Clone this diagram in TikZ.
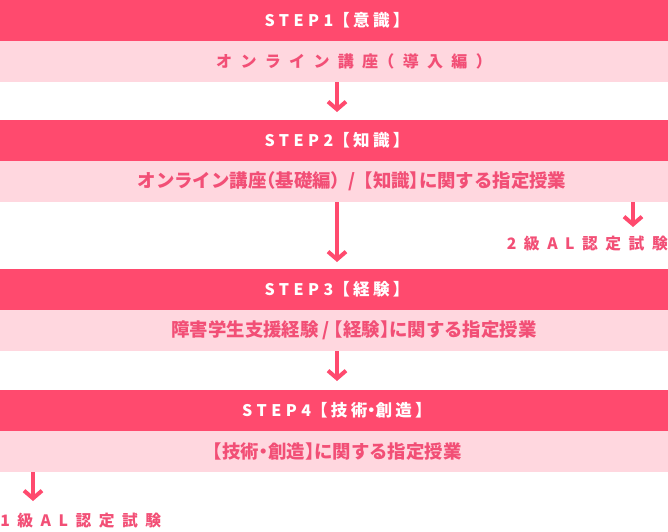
\documentclass[tikz,border=0pt]{standalone}
\usepackage{fontspec}
\setmainfont{Noto Sans CJK JP}
\usetikzlibrary{arrows.meta}
\definecolor{bandDark}{HTML}{FF4A6E}
\definecolor{bandLight}{HTML}{FFD7DF}
\definecolor{txtPink}{HTML}{F24F76}
\newcommand{\halfw}[1]{{\addfontfeature{CharacterWidth=AlternateHalf}#1}}
\newcommand{\stephead}[2]{\hspace*{4.5pt}{\addfontfeature{LetterSpace=28}#1}{\fontsize{12.4}{14}\selectfont\addfontfeature{LetterSpace=20}【#2】}}
\begin{document}
\begin{tikzpicture}[x=0.75pt,y=-0.75pt,
  headband/.style={fill=bandDark, minimum width=501pt, minimum height=30.75pt, inner sep=0pt,
    text=white, font=\bfseries\fontsize{12}{14}\selectfont},
  subband/.style={fill=bandLight, minimum width=501pt, minimum height=30.75pt, inner sep=0pt,
    text=txtPink, font=\bfseries\fontsize{13.8}{15}\selectfont\addfontfeature{CharacterWidth=AlternateHalf}},
  examlabel/.style={inner sep=0pt, text=txtPink, font=\bfseries\fontsize{11.8}{13}\selectfont},
  flowarrow/.style={draw=bandDark, line width=3pt,
    -{Straight Barb[sharp, length=5.8pt, width=13.5pt, line width=3pt]}}
]
\useasboundingbox (0,0) rectangle (668,532);

\node[headband] (h1) at (334,20.5) {\stephead{STEP1}{意識}};
\node[subband] (s1) at (334,61.5) {\hspace*{24pt}\fontsize{12}{14}\selectfont\addfontfeature{LetterSpace=52}オンライン講座（導入編）};

\node[headband] (h2) at (334,140.5) {\stephead{STEP2}{知識}};
\node[subband] (s2) at (334,181.5) {\hspace*{27pt}オンライン講座（基礎編）\hspace{0.45em}/\hspace{0.45em}【知識】に関する指定授業};

\node[headband] (h3) at (334,289.5) {\stephead{STEP3}{経験}};
\node[subband] (s3) at (334,330.5) {\hspace*{30pt}障害学生支援経験 / 【経験】に関する指定授業};

\node[headband] (h4) at (334,410.5) {\stephead{STEP4}{技術\halfw{・}創造}};
\node[subband] (s4) at (334,451.5) {\hspace*{5pt}【技術・創造】に関する指定授業};

\node[examlabel, anchor=east] (e2) at (668,244) {\addfontfeature{LetterSpace=48}2級AL認定試験};
\node[examlabel, anchor=west] (e1) at (0,521) {\addfontfeature{LetterSpace=48}1級AL認定試験};

\coordinate (t1) at (337,112);
\coordinate (t2) at (337,262);
\coordinate (t2b) at (633,227);
\coordinate (t3) at (337,381);
\coordinate (t4) at (33,501);

\draw[flowarrow] (s1.south -| t1) -- (t1);
\draw[flowarrow] (s2.south -| t2) -- (t2);
\draw[flowarrow] (s2.south -| t2b) -- (t2b);
\draw[flowarrow] (s3.south -| t3) -- (t3);
\draw[flowarrow] (s4.south -| t4) -- (t4);
\end{tikzpicture}
\end{document}
